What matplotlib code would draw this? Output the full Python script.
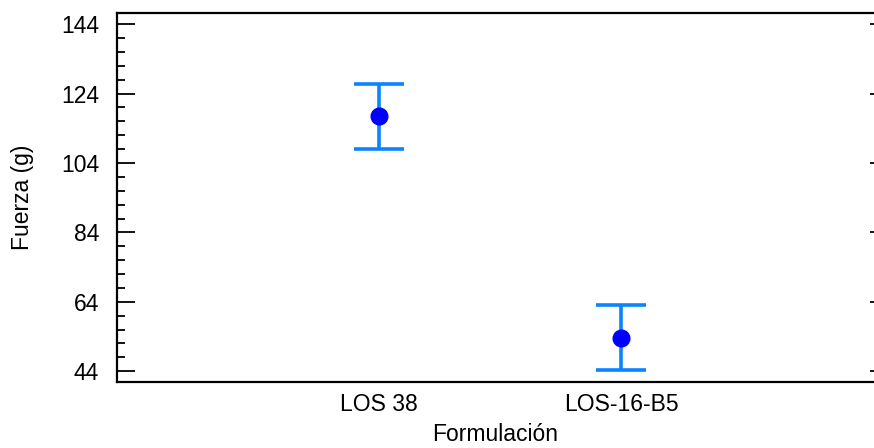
import numpy as np
import matplotlib
matplotlib.use("Agg")
import matplotlib.pyplot as plt
from matplotlib.ticker import MultipleLocator

plt.rcParams['font.family'] = ['Liberation Sans', 'DejaVu Sans']

categories = ["LOS 38", "LOS-16-B5"]
means = [117.4, 53.7]
errors = [9.4, 9.3]
yticks = [44, 64, 84, 104, 124, 144]

fig = plt.figure(figsize=(8.74, 4.48), dpi=100)
ax = fig.add_axes([117/874, 1 - 382/448, 1 - 117/874, (382 - 13)/448])

x = np.arange(1, len(categories) + 1)
ax.errorbar(x, means, yerr=errors, fmt='none', ecolor='#0a84ff',
            elinewidth=2.6, capsize=18, capthick=2.6, zorder=2)
ax.plot(x, means, 'o', color='#0000ff', markersize=12, zorder=3)

ax.set_xlim(-0.083, 3.045)
ax.set_ylim(40.9, 147.2)
ax.set_xticks(x)
ax.set_xticklabels(categories)
ax.set_yticks(yticks)
ax.yaxis.set_minor_locator(MultipleLocator(4))

ax.spines['right'].set_visible(False)
for s in ['left', 'top', 'bottom']:
    ax.spines[s].set_linewidth(1.6)

fs = 16.5
ax.tick_params(axis='x', length=0, labelsize=fs, pad=8)
ax.tick_params(axis='y', which='major', direction='in', length=13, width=1.3,
               labelsize=fs, pad=13, right=True)
ax.tick_params(axis='y', which='minor', direction='in', length=6, width=1.3)
for t in ax.yaxis.get_major_ticks():
    t.tick2line.set_markersize(3)
ax.yaxis.set_tick_params(which='minor', right=False)

ax.set_xlabel("Formulación", fontsize=fs, labelpad=5)
ax.set_ylabel("Fuerza (g)", fontsize=fs, labelpad=19)

fig.savefig("out.png", dpi=100)
